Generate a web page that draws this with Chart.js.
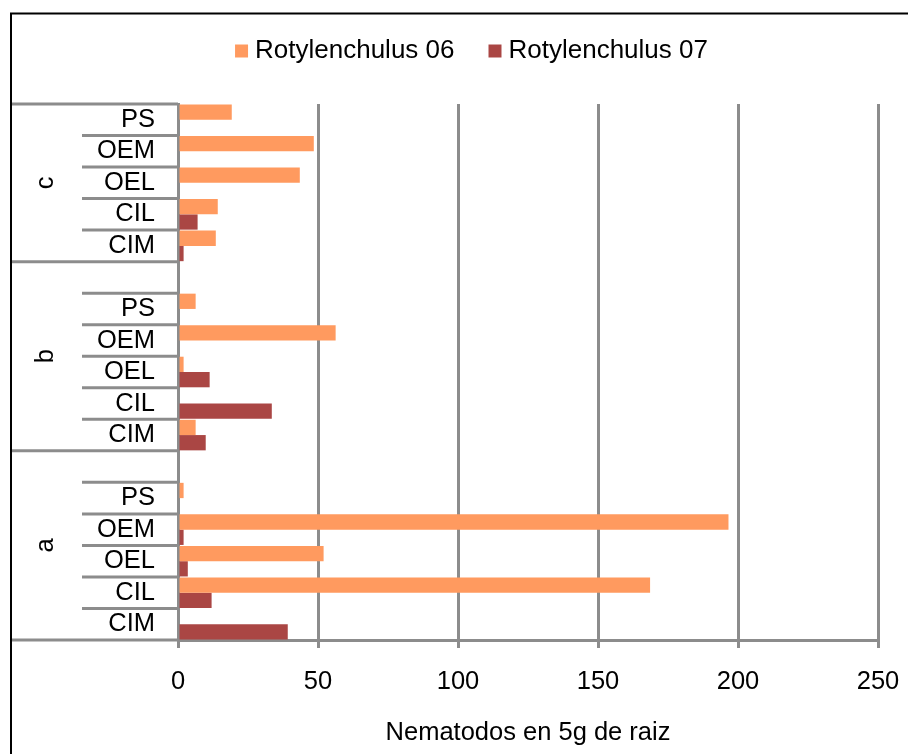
<!DOCTYPE html>
<html>
<head>
<meta charset="utf-8">
<script src="https://cdn.jsdelivr.net/npm/chart.js@4.4.1/dist/chart.umd.min.js"></script>
<style>
  html, body { margin: 0; padding: 0; background: #fff; }
  #wrap { width: 908px; height: 754px; }
</style>
</head>
<body>
<div id="wrap"><canvas id="myChart" width="908" height="754"></canvas></div>
<script>
// Categories listed top to bottom, the way Chart.js stacks a horizontal bar chart.
// Empty strings are the blank rows Excel leaves at the top of groups b and a.
const groups = ["c", "b", "a"];
const groupSizes = [5, 6, 6];
const categories = [
	"PS", "OEM", "OEL", "CIL", "CIM",
	"", "PS", "OEM", "OEL", "CIL", "CIM",
	"", "PS", "OEM", "OEL", "CIL", "CIM",
];
const rotylenchulus06 = [19.2, 48.5, 43.5, 14.2, 13.5, 0, 6.3, 56.3, 2.0, 0, 6.3, 0, 2.0, 196.6, 52.0, 168.6, 0];
const rotylenchulus07 = [0, 0, 0, 7.0, 2.0, 0, 0, 0, 11.3, 33.5, 9.9, 0, 0, 2.0, 3.5, 12.0, 39.2];
const xMin = 0;
const xMax = 250;
const xStep = 50;

const fontFamily = "'Liberation Sans', Arial, sans-serif";
const gridColor = "#8c8c8c";

// Black frame of the chart object (only its top and left edges are on screen)
const frame = {
	id: "frame",
	beforeDraw(chart) {
		const {ctx} = chart;
		ctx.save();
		ctx.fillStyle = "#fff";
		ctx.fillRect(0, 0, chart.width, chart.height);
		ctx.strokeStyle = "#000";
		ctx.lineWidth = 2;
		ctx.beginPath();
		ctx.moveTo(11, chart.height);
		ctx.lineTo(11, 13.5);
		ctx.lineTo(chart.width, 13.5);
		ctx.stroke();
		ctx.restore();
	},
};

// Excel style two level category axis: divider lines and rotated group names
const multiLevelAxis = {
	id: "multiLevelAxis",
	afterDraw(chart) {
		const {ctx} = chart;
		const yScale = chart.scales.y;
		const half = (yScale.getPixelForValue(1) - yScale.getPixelForValue(0)) / 2;
		const edge = i => (i < categories.length
			? yScale.getPixelForValue(i) - half
			: yScale.getPixelForValue(categories.length - 1) + half);

		const groupEdges = [0];
		let n = 0;
		for (const size of groupSizes) {
			n += size;
			groupEdges.push(n);
		}

		ctx.save();
		ctx.strokeStyle = gridColor;
		ctx.lineWidth = 3;
		for (let i = 0; i <= categories.length; i++) {
			const y = edge(i);
			const startX = groupEdges.includes(i) ? yScale.left : 82;
			ctx.beginPath();
			ctx.moveTo(startX, y);
			ctx.lineTo(yScale.right, y);
			ctx.stroke();
		}

		ctx.fillStyle = "#000";
		ctx.font = `25.5px ${fontFamily}`;
		ctx.textAlign = "center";
		ctx.textBaseline = "middle";
		groups.forEach((g, k) => {
			const yMid = (edge(groupEdges[k]) + edge(groupEdges[k + 1])) / 2;
			ctx.save();
			ctx.translate(46, yMid);
			ctx.rotate(-Math.PI / 2);
			ctx.fillText(g, 0, 0);
			ctx.restore();
		});
		ctx.restore();
	},
};

// Legend takes a fixed strip at the top and sits where Excel put it
const legendSizing = {
	id: "legendSizing",
	beforeInit(chart) {
		const legend = chart.legend;
		const fit = legend.fit;
		legend.fit = function () {
			fit.call(this);
			this.height = 106;
			this.lineWidths[0] -= 59;
		};
	},
};

const context = document.querySelector("#myChart");
const nematodeChart = new Chart(context, { // eslint-disable-line no-unused-vars
	type: "bar",
	data: {
		labels: categories,
		datasets: [
			{
				label: "Rotylenchulus 06",
				data: rotylenchulus06,
				backgroundColor: "#ff9a5f",
				borderWidth: 0,
				categoryPercentage: 0.97,
				barPercentage: 1,
			},
			{
				label: "Rotylenchulus 07",
				data: rotylenchulus07,
				backgroundColor: "#aa4644",
				borderWidth: 0,
				categoryPercentage: 0.97,
				barPercentage: 1,
			},
		],
	},
	options: {
		indexAxis: "y",
		responsive: false,
		devicePixelRatio: 1,
		animation: false,
		layout: {
			padding: {top: -2, left: 12, right: 30, bottom: 0},
		},
		scales: {
			x: {
				type: "linear",
				min: xMin,
				max: xMax,
				ticks: {
					stepSize: xStep,
					color: "#000",
					padding: 19,
					font: {size: 25.5, family: fontFamily},
				},
				grid: {
					color: gridColor,
					lineWidth: 3,
					tickLength: 8,
				},
				border: {display: true, color: gridColor, width: 3},
				title: {
					display: true,
					text: "Nematodos en 5g de raiz",
					color: "#000",
					font: {size: 25.5, family: fontFamily},
					padding: {top: 0, bottom: 6},
				},
				afterFit(scale) {
					scale.height = 114;
					// keep the right edge at the layout padding, as in the original
					scale.paddingLeft = 0;
					scale.paddingRight = 0;
				},
			},
			y: {
				type: "category",
				ticks: {
					autoSkip: false,
					color: "#000",
					padding: 15,
					font: {size: 25.5, family: fontFamily},
				},
				grid: {display: false},
				border: {display: true, color: gridColor, width: 3},
				afterFit(scale) {
					scale.width = 166;
				},
			},
		},
		plugins: {
			legend: {
				display: true,
				position: "top",
				labels: {
					usePointStyle: true,
					pointStyle: "rect",
					boxWidth: 1,
					boxHeight: 13,
					padding: 40,
					color: "#000",
					font: {size: 26, family: fontFamily},
				},
			},
			tooltip: {enabled: false},
		},
	},
	plugins: [frame, multiLevelAxis, legendSizing],
});
</script>
</body>
</html>
